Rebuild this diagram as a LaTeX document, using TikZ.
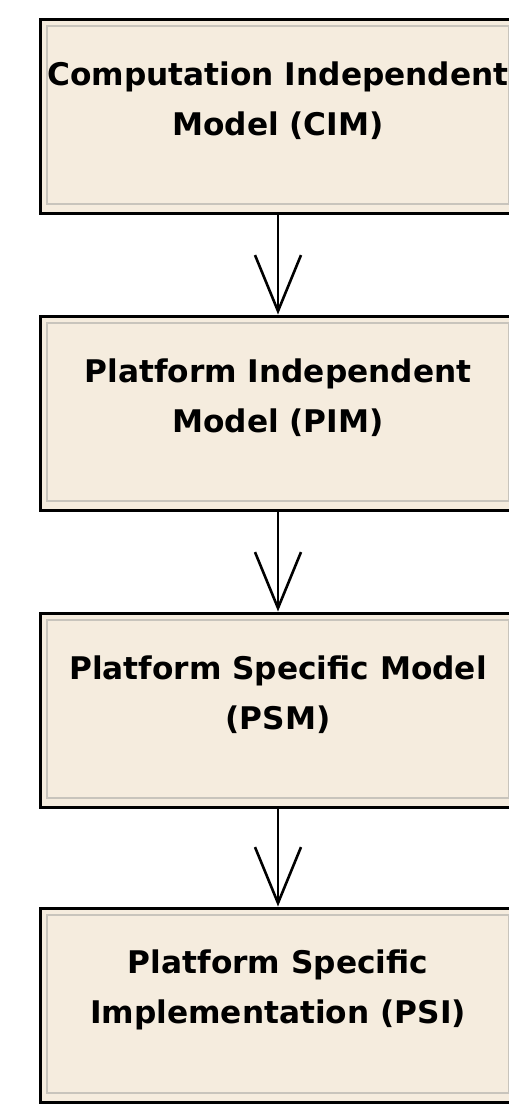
\documentclass[tikz,border=0pt]{standalone}
\usepackage{fontspec}
\setmainfont{DejaVu Sans}
\usetikzlibrary{arrows.meta}
\definecolor{boxfill}{RGB}{245,236,222}
\definecolor{boxinner}{RGB}{200,196,188}
\begin{document}
\begin{tikzpicture}[x=0.5pt,y=-0.5pt,-{Straight Barb[length=28pt,width=23pt,line width=1.3pt]}]
    \tikzstyle{modelbox}=[draw=black,line width=1.5pt,fill=boxfill,minimum width=238pt,minimum height=97pt,
      path picture={\draw[boxinner,line width=0.8pt] ([shift={(3.5pt,-3.5pt)}]path picture bounding box.north west) rectangle ([shift={(-3.5pt,4.5pt)}]path picture bounding box.south east);}];
    \tikzstyle{modeltext}=[font=\bfseries\fontsize{15.6}{25}\selectfont,align=center,text=black,yshift=7.5pt];
    \tikzstyle{every path}=[line width=1pt];
    \useasboundingbox (0,0) rectangle (509,1105);
    \node at (278, 116)  (cim) [modelbox,label={[modeltext]center:{Computation Independent\\Model (CIM)}}] {};
    \node at (278, 413)  (pim) [modelbox,label={[modeltext]center:{Platform Independent\\Model (PIM)}}] {};
    \node at (278, 710)  (psm) [modelbox,label={[modeltext]center:{Platform Specific Model\\(PSM)}}] {};
    \node at (278, 1005) (psi) [modelbox,label={[modeltext]center:{Platform Specific\\Implementation (PSI)}}] {};

    \draw (cim) to (pim);
    \draw (pim) to (psm);
    \draw (psm) to (psi);
\end{tikzpicture}
\end{document}
